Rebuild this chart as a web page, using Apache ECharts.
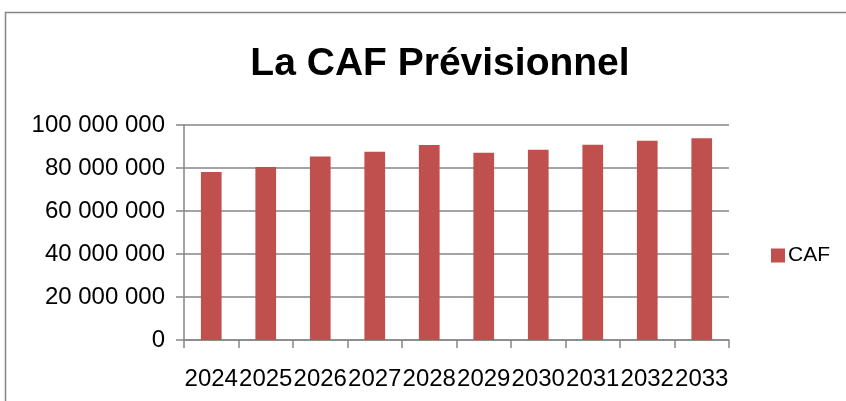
<!DOCTYPE html>
<html>
<head>
<meta charset="utf-8">
<script src="https://cdn.jsdelivr.net/npm/echarts@6/dist/echarts.min.js"></script>
<style>
html,body{margin:0;padding:0;background:#fff;}
#chart{width:846px;height:401px;}
</style>
</head>
<body>
<div id="chart"></div>
<script>
var titleText = 'La CAF Prévisionnel';
var seriesName = 'CAF';
var categories = ['2024','2025','2026','2027','2028','2029','2030','2031','2032','2033'];
var cafValues = [78100000, 80500000, 85300000, 87600000, 90700000, 87100000, 88500000, 90800000, 92700000, 93800000];
var yTicks = [0, 20000000, 40000000, 60000000, 80000000, 100000000];

function fmt(v){
  return String(v).replace(/\B(?=(\d{3})+(?!\d))/g, ' ');
}

var chart = echarts.init(document.getElementById('chart'), null, {renderer:'canvas'});
chart.setOption({
  animation:false,
  backgroundColor:'#fff',
  textStyle:{fontFamily:'Liberation Sans'},
  title:{
    text:titleText, left:435, top:40, textAlign:'center',
    textStyle:{fontFamily:'Liberation Sans', fontWeight:'bold', fontSize:39, color:'#000'}
  },
  legend:{
    data:[seriesName], left:766, top:240, orient:'vertical',
    itemWidth:14, itemHeight:14, itemGap:4,
    icon:'rect',
    textStyle:{fontFamily:'Liberation Sans', fontSize:21, color:'#000', padding:[0,0,0,-2]}
  },
  grid:{left:184, right:117, top:125, bottom:61, containLabel:false},
  xAxis:{
    type:'category', data:categories, boundaryGap:true,
    axisLine:{lineStyle:{color:'#868686', width:1.5}},
    axisTick:{show:true, alignWithLabel:false, length:8, inside:false, lineStyle:{color:'#868686', width:1.5}},
    axisLabel:{fontFamily:'Liberation Sans', fontSize:24, color:'#000', margin:27, interval:0}
  },
  yAxis:{
    type:'value', min:0, max:100000000, interval:20000000,
    axisLine:{show:true, lineStyle:{color:'#868686', width:1.5}},
    axisTick:{show:true, length:8, lineStyle:{color:'#868686', width:1.5}},
    splitLine:{show:true, lineStyle:{color:'#868686', width:1.5}},
    axisLabel:{fontFamily:'Liberation Sans', fontSize:24, color:'#000', margin:19,
      formatter:function(v){return fmt(v);}}
  },
  series:[{
    name:seriesName, type:'bar', data:cafValues, barWidth:'38%',
    itemStyle:{color:'#C0504D'}
  }],
  graphic:[{
    type:'rect', silent:true, z:-1,
    shape:{x:5.5, y:12.5, width:900, height:500},
    style:{fill:'none', stroke:'#868686', lineWidth:1.5}
  }]
});
</script>
</body>
</html>
